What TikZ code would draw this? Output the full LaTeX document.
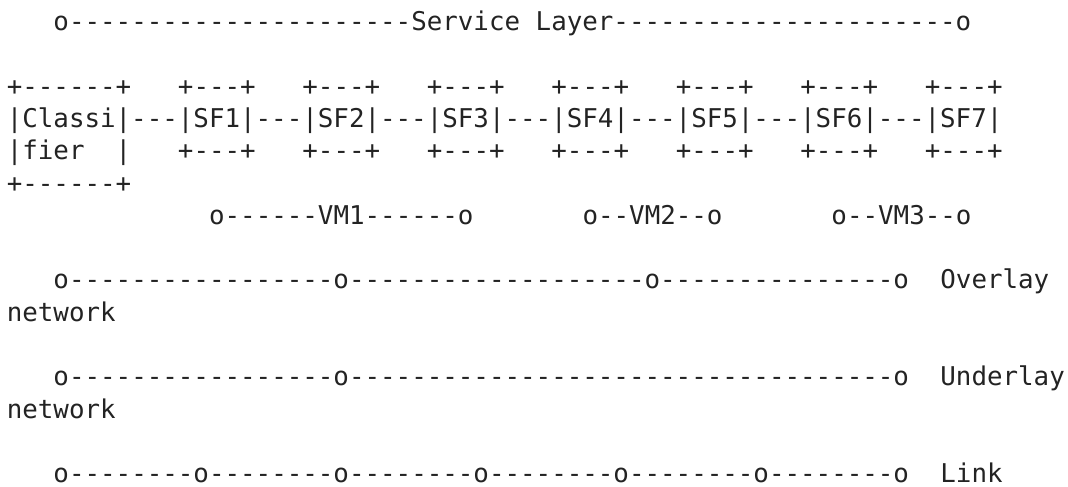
\documentclass[tikz,border=0pt]{standalone}
\usepackage{fontspec}
\newfontfamily\asciifont{DejaVu Sans Mono}[Ligatures=TeXOff]
\definecolor{ink}{HTML}{232323}
\tikzset{
  asc/.style={anchor=base west, inner sep=0pt, outer sep=0pt, text=ink,
              font=\asciifont\fontsize{25.84pt}{32.3pt}\selectfont}
}
\begin{document}
\begin{tikzpicture}[x=15.56pt, y=-32.3pt]
\useasboundingbox (-6.8pt,30.5pt) rectangle (1061.2pt,-456.5pt);
% row 0: service layer
\node[asc] (svc) at (3,0) {o----------------------Service Layer----------------------o};
% rows 2-5: classifier and service functions
\node[asc] (clt) at (0,2) {+------+};
\foreach \i/\n in {11/1,19/2,27/3,35/4,43/5,51/6,59/7}{
  \node[asc] (sft\n) at (\i,2) {+---+};
  \node[asc] (sfb\n) at (\i,4) {+---+};
}
\node[asc] (chain) at (0,3) {|Classi|---|SF1|---|SF2|---|SF3|---|SF4|---|SF5|---|SF6|---|SF7|};
\node[asc] (clm) at (0,4) {|fier};
\node[asc] (clr) at (7,4) {|};
\node[asc] (clb) at (0,5) {+------+};
% row 6: VMs
\node[asc] (vm1) at (13,6) {o------VM1------o};
\node[asc] (vm2) at (37,6) {o--VM2--o};
\node[asc] (vm3) at (53,6) {o--VM3--o};
% overlay
\node[asc] (ovl) at (3,8) {o-----------------o-------------------o---------------o};
\node[asc] (ovt) at (60,8) {Overlay};
\node[asc] (ovn) at (0,9) {network};
% underlay
\node[asc] (unl) at (3,11) {o-----------------o-----------------------------------o};
\node[asc] (unt) at (60,11) {Underlay};
\node[asc] (unn) at (0,12) {network};
% link
\node[asc] (lnl) at (3,14) {o--------o--------o--------o--------o--------o--------o};
\node[asc] (lnt) at (60,14) {Link};
\end{tikzpicture}
\end{document}
